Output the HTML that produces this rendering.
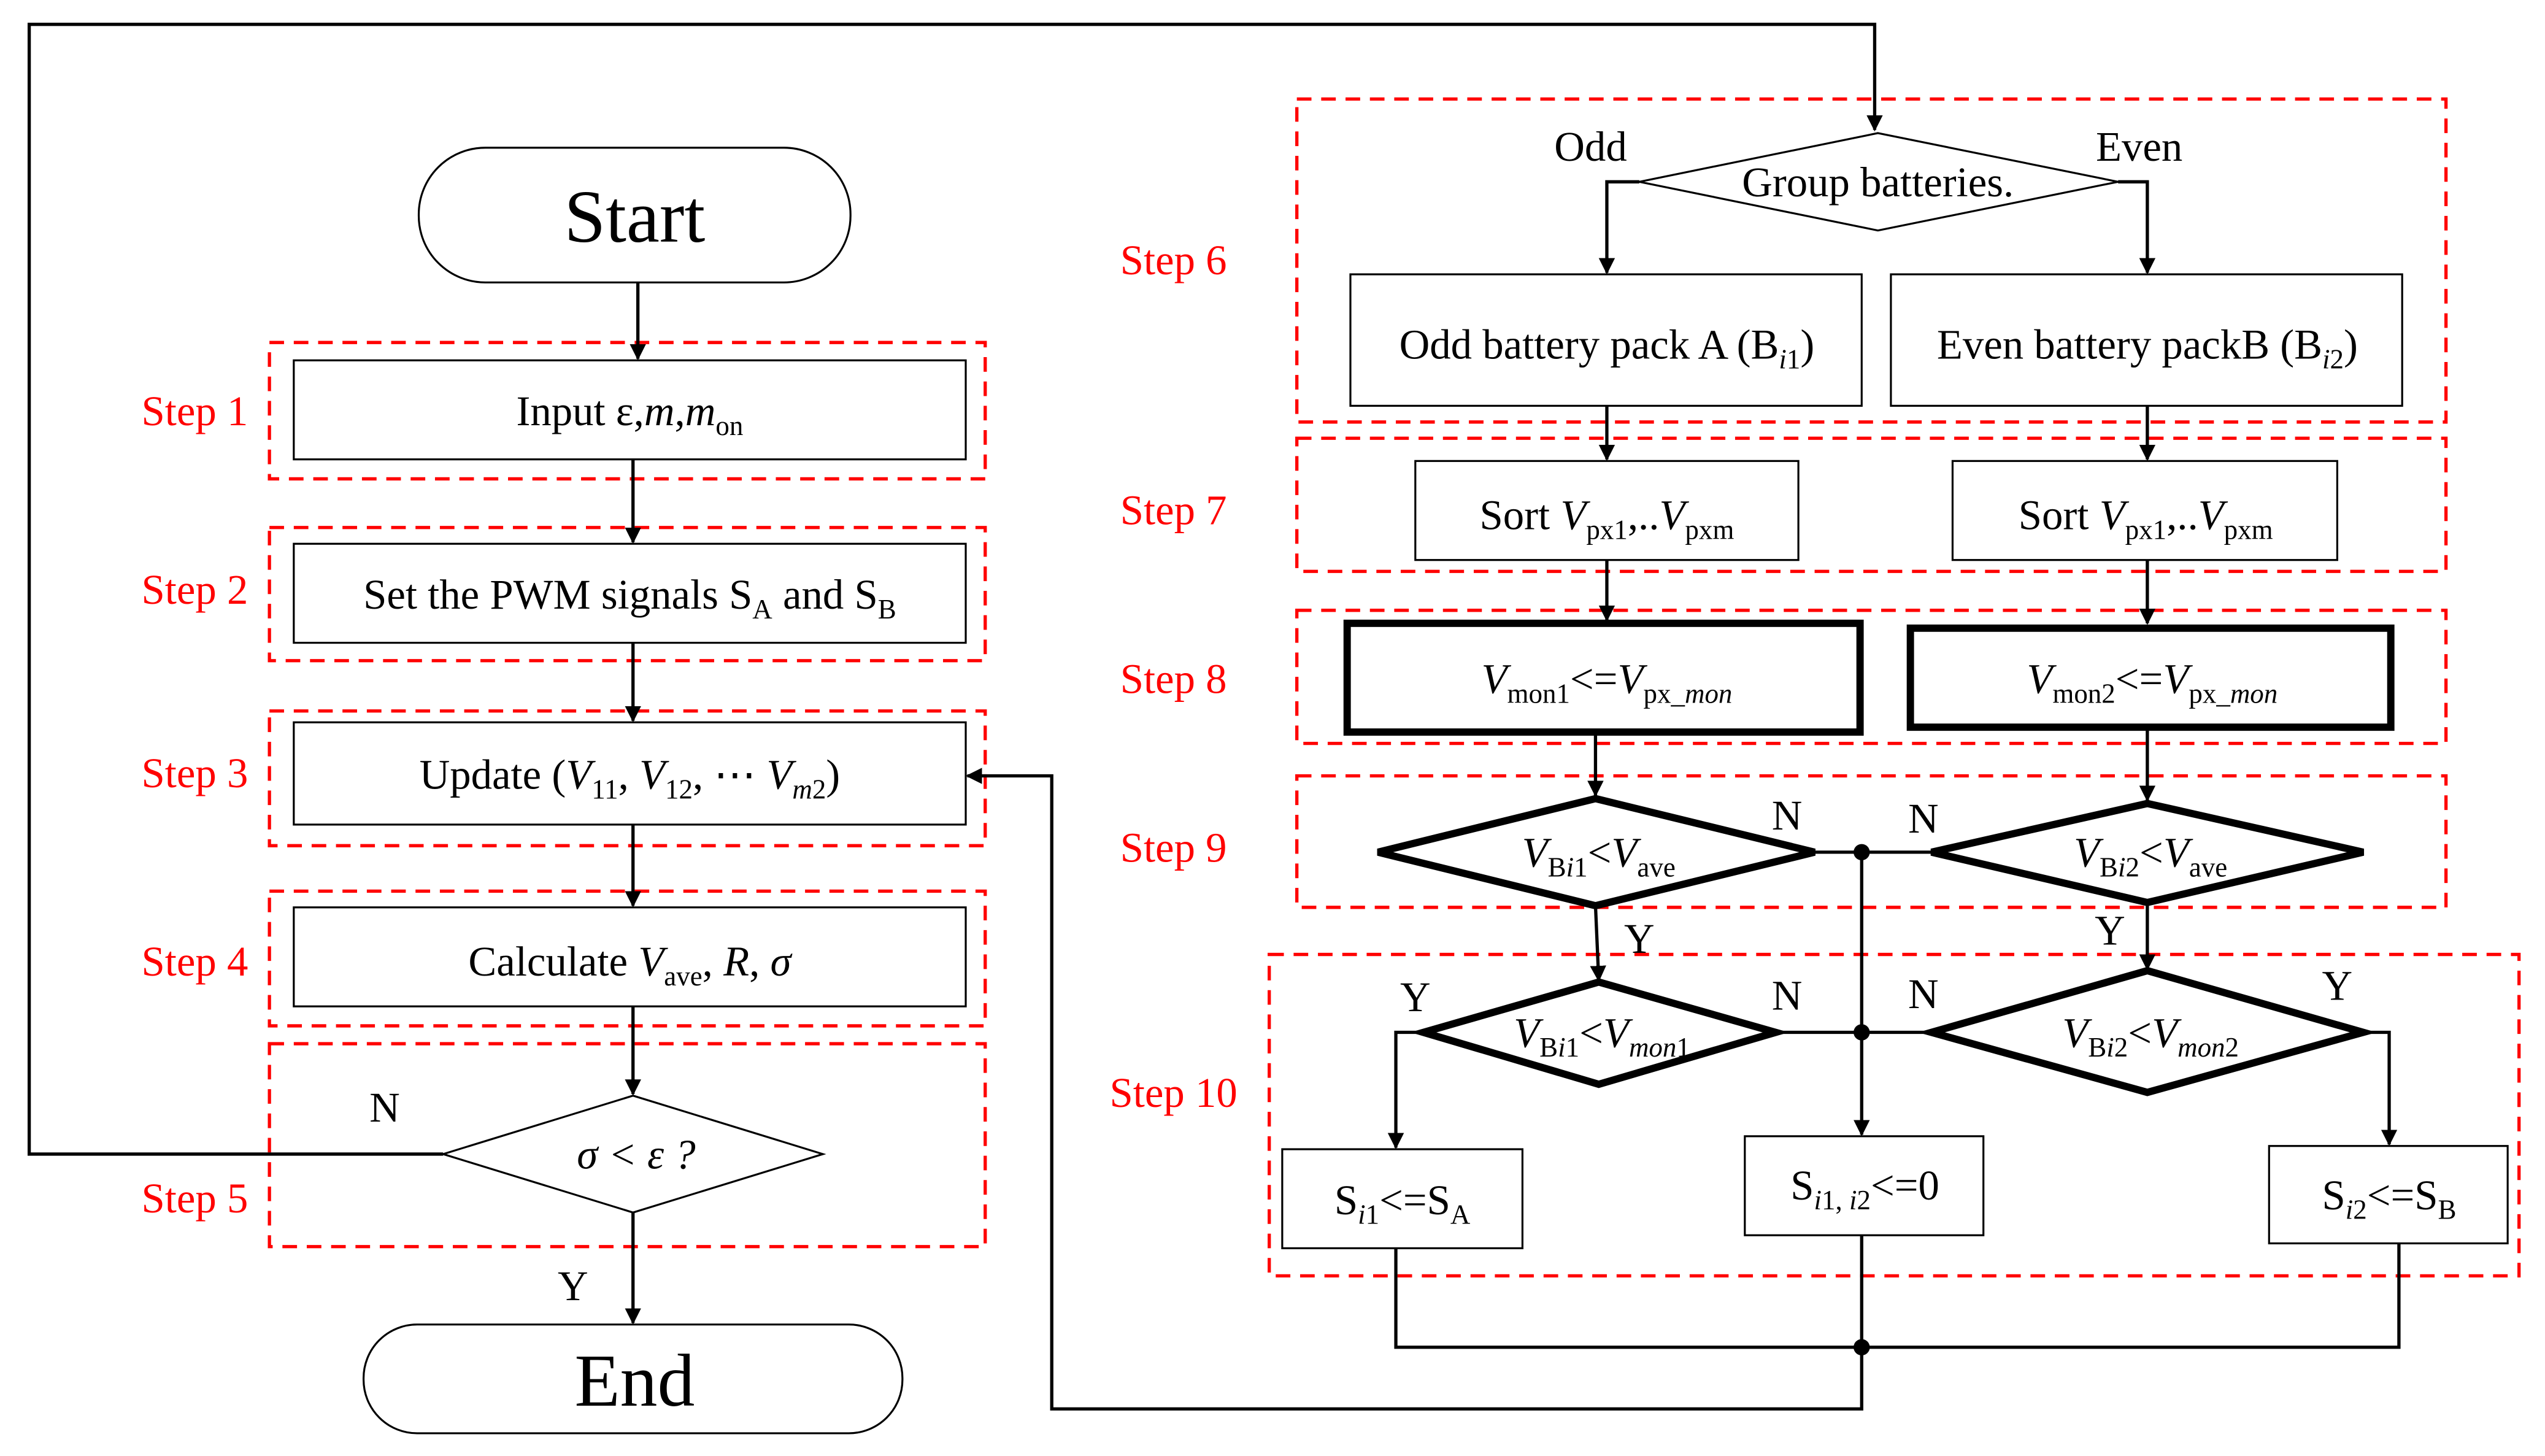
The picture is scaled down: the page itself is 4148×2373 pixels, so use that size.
<!DOCTYPE html>
<html><head><meta charset="utf-8"><style>
html,body{margin:0;padding:0;background:#fff;width:4148px;height:2373px;overflow:hidden}
svg{display:block}
text{font-family:"Liberation Serif",serif;fill:#000}
.r{fill:#f00;font-size:26px}
.t{font-size:26px}
.d{fill:none;stroke:#f00;stroke-width:2;stroke-dasharray:9 6}
.l{fill:none;stroke:#000;stroke-width:2}
.b{fill:#fff;stroke:#000;stroke-width:1.2}
.k{fill:#fff;stroke:#000;stroke-width:4.5}
</style></head><body>
<svg width="4148" height="2373" viewBox="0 0 1568 897" preserveAspectRatio="none">
<defs><marker id="a" markerWidth="10" markerHeight="12" refX="9" refY="6" orient="auto" markerUnits="userSpaceOnUse"><path d="M0,1 L10,6 L0,11 Z" fill="#000"/></marker></defs>
<rect width="1568" height="897" fill="#fff"/>
<rect class="d" x="166" y="211" width="441" height="84"/>
<rect class="d" x="166" y="325" width="441" height="82"/>
<rect class="d" x="166" y="438" width="441" height="83"/>
<rect class="d" x="166" y="549" width="441" height="83"/>
<rect class="d" x="166" y="643" width="441" height="125"/>
<rect class="d" x="799" y="61" width="708" height="199"/>
<rect class="d" x="799" y="270" width="708" height="82"/>
<rect class="d" x="799" y="376" width="708" height="82"/>
<rect class="d" x="799" y="478" width="708" height="81"/>
<rect class="d" x="782" y="588" width="770" height="198"/>
<text class="r" x="120" y="262" text-anchor="middle">Step 1</text>
<text class="r" x="120" y="372" text-anchor="middle">Step 2</text>
<text class="r" x="120" y="485" text-anchor="middle">Step 3</text>
<text class="r" x="120" y="601" text-anchor="middle">Step 4</text>
<text class="r" x="120" y="747" text-anchor="middle">Step 5</text>
<text class="r" x="723" y="169" text-anchor="middle">Step 6</text>
<text class="r" x="723" y="323" text-anchor="middle">Step 7</text>
<text class="r" x="723" y="427" text-anchor="middle">Step 8</text>
<text class="r" x="723" y="531" text-anchor="middle">Step 9</text>
<text class="r" x="723" y="682" text-anchor="middle">Step 10</text>
<polyline class="l" points="273,711 18,711 18,15 1155,15 1155,80" marker-end="url(#a)"/>
<rect class="b" x="258" y="91" width="266" height="83" rx="41"/>
<text x="391" y="149" text-anchor="middle" font-size="46">Start</text>
<line class="l" x1="393" y1="174" x2="393" y2="221" marker-end="url(#a)"/>
<rect class="b" x="181" y="222" width="414" height="61"/>
<text class="t" x="388" y="262" text-anchor="middle">Input   ε,<tspan font-style="italic">m</tspan>,<tspan font-style="italic">m</tspan><tspan font-size="17" dy="6">on</tspan></text>
<line class="l" x1="390" y1="283" x2="390" y2="334" marker-end="url(#a)"/>
<rect class="b" x="181" y="335" width="414" height="61"/>
<text class="t" x="388" y="375" text-anchor="middle">Set the PWM signals S<tspan font-size="17" dy="6">A</tspan><tspan dy="-6"> and S</tspan><tspan font-size="17" dy="6">B</tspan></text>
<line class="l" x1="390" y1="396" x2="390" y2="444" marker-end="url(#a)"/>
<rect class="b" x="181" y="445" width="414" height="63"/>
<text class="t" x="388" y="486" text-anchor="middle">Update (<tspan font-style="italic">V</tspan><tspan font-size="17" dy="6">11</tspan><tspan dy="-6">, </tspan><tspan font-style="italic">V</tspan><tspan font-size="17" dy="6">12</tspan><tspan dy="-6">, ⋯ </tspan><tspan font-style="italic">V</tspan><tspan font-size="17" dy="6" font-style="italic">m</tspan><tspan font-size="17">2</tspan><tspan dy="-6">)</tspan></text>
<line class="l" x1="390" y1="508" x2="390" y2="558" marker-end="url(#a)"/>
<rect class="b" x="181" y="559" width="414" height="61"/>
<text class="t" x="388" y="601" text-anchor="middle">Calculate   <tspan font-style="italic">V</tspan><tspan font-size="17" dy="6">ave</tspan><tspan dy="-6">,   </tspan><tspan font-style="italic">R</tspan>,    <tspan font-style="italic">σ</tspan></text>
<line class="l" x1="390" y1="620" x2="390" y2="674" marker-end="url(#a)"/>
<polygon class="b" points="390,675 507,711 390,747 273,711"/>
<text class="t" x="392" y="720" text-anchor="middle" font-style="italic">σ   &lt;    ε   ?</text>
<text class="t" x="237" y="691" text-anchor="middle">N</text>
<text class="t" x="353" y="801" text-anchor="middle">Y</text>
<line class="l" x1="390" y1="747" x2="390" y2="815" marker-end="url(#a)"/>
<rect class="b" x="224" y="816" width="332" height="67" rx="33"/>
<text x="391" y="866" text-anchor="middle" font-size="46">End</text>
<polygon class="b" points="1157,82 1305,112 1157,142 1010,112"/>
<text class="t" x="1157" y="121" text-anchor="middle">Group batteries.</text>
<text class="t" x="980" y="99" text-anchor="middle">Odd</text>
<text class="t" x="1318" y="99" text-anchor="middle" font-size="24">Even</text>
<polyline class="l" points="1010,112 990,112 990,168" marker-end="url(#a)"/>
<polyline class="l" points="1305,112 1323,112 1323,168" marker-end="url(#a)"/>
<rect class="b" x="832" y="169" width="315" height="81"/>
<text class="t" x="990" y="221" text-anchor="middle">Odd battery pack A (B<tspan font-size="17" dy="6" font-style="italic">i</tspan><tspan font-size="17">1</tspan><tspan dy="-6">)</tspan></text>
<rect class="b" x="1165" y="169" width="315" height="81"/>
<text class="t" x="1323" y="221" text-anchor="middle">Even battery packB (B<tspan font-size="17" dy="6" font-style="italic">i</tspan><tspan font-size="17">2</tspan><tspan dy="-6">)</tspan></text>
<line class="l" x1="990" y1="250" x2="990" y2="283" marker-end="url(#a)"/>
<line class="l" x1="1323" y1="250" x2="1323" y2="283" marker-end="url(#a)"/>
<rect class="b" x="872" y="284" width="236" height="61"/>
<text class="t" x="990" y="326" text-anchor="middle">Sort  <tspan font-style="italic">V</tspan><tspan font-size="17" dy="6">px1</tspan><tspan dy="-6">,..</tspan><tspan font-style="italic">V</tspan><tspan font-size="17" dy="6">pxm</tspan></text>
<rect class="b" x="1203" y="284" width="237" height="61"/>
<text class="t" x="1322" y="326" text-anchor="middle">Sort  <tspan font-style="italic">V</tspan><tspan font-size="17" dy="6">px1</tspan><tspan dy="-6">,..</tspan><tspan font-style="italic">V</tspan><tspan font-size="17" dy="6">pxm</tspan></text>
<line class="l" x1="990" y1="345" x2="990" y2="382" marker-end="url(#a)"/>
<line class="l" x1="1323" y1="345" x2="1323" y2="384" marker-end="url(#a)"/>
<rect class="k" x="830" y="384" width="316" height="67"/>
<text class="t" x="990" y="427" text-anchor="middle"><tspan font-style="italic">V</tspan><tspan font-size="17" dy="6">mon1</tspan><tspan dy="-6">&lt;=</tspan><tspan font-style="italic">V</tspan><tspan font-size="17" dy="6">px_</tspan><tspan font-size="17" font-style="italic">mon</tspan></text>
<rect class="k" x="1177" y="387" width="296" height="61"/>
<text class="t" x="1326" y="427" text-anchor="middle"><tspan font-style="italic">V</tspan><tspan font-size="17" dy="6">mon2</tspan><tspan dy="-6">&lt;=</tspan><tspan font-style="italic">V</tspan><tspan font-size="17" dy="6">px_</tspan><tspan font-size="17" font-style="italic">mon</tspan></text>
<line class="l" x1="983" y1="451" x2="983" y2="490" marker-end="url(#a)"/>
<line class="l" x1="1323" y1="448" x2="1323" y2="493" marker-end="url(#a)"/>
<polygon class="k" points="983,492 1118,525 983,558 849,525"/>
<text class="t" x="985" y="534" text-anchor="middle"><tspan font-style="italic">V</tspan><tspan font-size="17" dy="6">B</tspan><tspan font-size="17" font-style="italic">i</tspan><tspan font-size="17">1</tspan><tspan dy="-6">&lt;</tspan><tspan font-style="italic">V</tspan><tspan font-size="17" dy="6">ave</tspan></text>
<polygon class="k" points="1323,495 1456,525 1323,556 1190,525"/>
<text class="t" x="1325" y="534" text-anchor="middle"><tspan font-style="italic">V</tspan><tspan font-size="17" dy="6">B</tspan><tspan font-size="17" font-style="italic">i</tspan><tspan font-size="17">2</tspan><tspan dy="-6">&lt;</tspan><tspan font-style="italic">V</tspan><tspan font-size="17" dy="6">ave</tspan></text>
<line class="l" x1="1118" y1="525" x2="1190" y2="525"/>
<circle cx="1147" cy="525" r="5" fill="#000"/>
<text class="t" x="1101" y="511" text-anchor="middle">N</text>
<text class="t" x="1185" y="513" text-anchor="middle">N</text>
<text class="t" x="1010" y="587" text-anchor="middle">Y</text>
<text class="t" x="1300" y="582" text-anchor="middle">Y</text>
<line class="l" x1="983" y1="558" x2="985" y2="604" marker-end="url(#a)"/>
<line class="l" x1="1323" y1="556" x2="1323" y2="597" marker-end="url(#a)"/>
<polygon class="k" points="985,605 1094,636 985,668 877,636"/>
<text class="t" x="987" y="645" text-anchor="middle"><tspan font-style="italic">V</tspan><tspan font-size="17" dy="6">B</tspan><tspan font-size="17" font-style="italic">i</tspan><tspan font-size="17">1</tspan><tspan dy="-6">&lt;</tspan><tspan font-style="italic">V</tspan><tspan font-size="17" dy="6" font-style="italic">mon</tspan><tspan font-size="17">1</tspan></text>
<polygon class="k" points="1323,598 1456,636 1323,673 1190,636"/>
<text class="t" x="1325" y="645" text-anchor="middle"><tspan font-style="italic">V</tspan><tspan font-size="17" dy="6">B</tspan><tspan font-size="17" font-style="italic">i</tspan><tspan font-size="17">2</tspan><tspan dy="-6">&lt;</tspan><tspan font-style="italic">V</tspan><tspan font-size="17" dy="6" font-style="italic">mon</tspan><tspan font-size="17">2</tspan></text>
<line class="l" x1="1094" y1="636" x2="1190" y2="636"/>
<circle cx="1147" cy="636" r="5" fill="#000"/>
<line class="l" x1="1147" y1="525" x2="1147" y2="699" marker-end="url(#a)"/>
<text class="t" x="1101" y="622" text-anchor="middle">N</text>
<text class="t" x="1185" y="621" text-anchor="middle">N</text>
<text class="t" x="872" y="623" text-anchor="middle">Y</text>
<text class="t" x="1440" y="616" text-anchor="middle">Y</text>
<polyline class="l" points="877,636 860,636 860,707" marker-end="url(#a)"/>
<polyline class="l" points="1456,636 1472,636 1472,705" marker-end="url(#a)"/>
<rect class="b" x="790" y="708" width="148" height="61"/>
<text class="t" x="864" y="748" text-anchor="middle">S<tspan font-size="17" dy="6" font-style="italic">i</tspan><tspan font-size="17">1</tspan><tspan dy="-6">&lt;=S</tspan><tspan font-size="17" dy="6">A</tspan></text>
<rect class="b" x="1075" y="700" width="147" height="61"/>
<text class="t" x="1149" y="739" text-anchor="middle">S<tspan font-size="17" dy="6" font-style="italic">i</tspan><tspan font-size="17">1, </tspan><tspan font-size="17" font-style="italic">i</tspan><tspan font-size="17">2</tspan><tspan dy="-6">&lt;=0</tspan></text>
<rect class="b" x="1398" y="706" width="147" height="60"/>
<text class="t" x="1472" y="745" text-anchor="middle">S<tspan font-size="17" dy="6" font-style="italic">i</tspan><tspan font-size="17">2</tspan><tspan dy="-6">&lt;=S</tspan><tspan font-size="17" dy="6">B</tspan></text>
<polyline class="l" points="860,769 860,830 1478,830 1478,766"/>
<line class="l" x1="1147" y1="761" x2="1147" y2="830"/>
<circle cx="1147" cy="830" r="5" fill="#000"/>
<polyline class="l" points="1147,830 1147,868 648,868 648,478 596,478" marker-end="url(#a)"/>
</svg>
</body></html>
